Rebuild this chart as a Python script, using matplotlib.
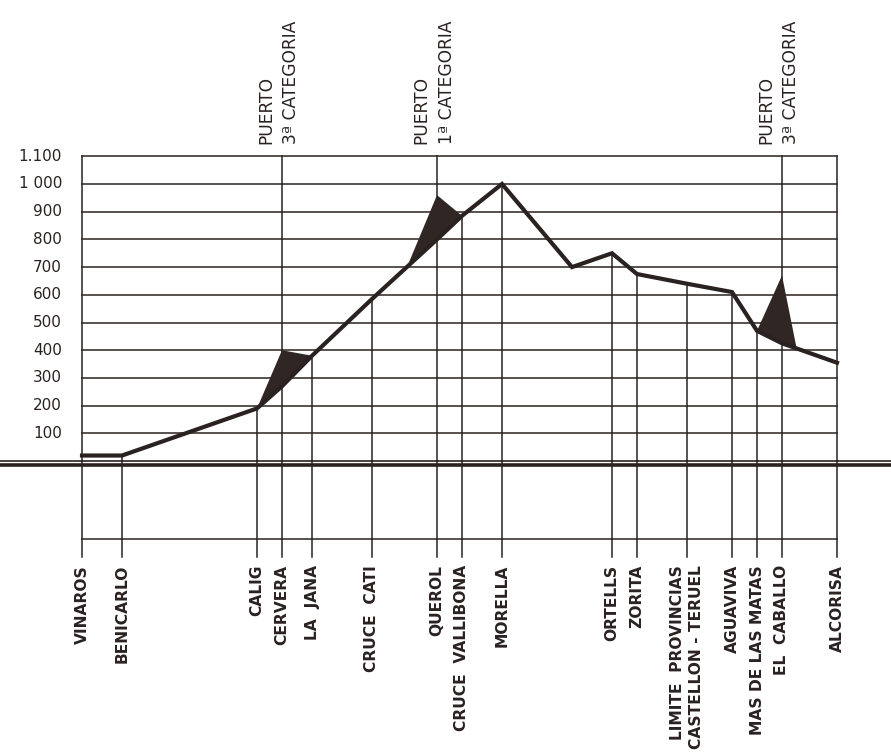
import numpy as np
import matplotlib.pyplot as plt

# Perfil de la etapa Vinaros - Alcorisa
pueblos = ["VINAROS", "BENICARLO", "CALIG", "CERVERA", "LA  JANA", "CRUCE  CATI",
           "QUEROL", "CRUCE  VALLIBONA", "MORELLA", "ORTELLS", "ZORITA",
           "LIMITE  PROVINCIAS\nCASTELLON - TERUEL", "AGUAVIVA",
           "MAS DE LAS MATAS", "EL  CABALLO", "ALCORISA"]
km_pueblos = [0, 8, 35, 40, 46, 58, 71, 76, 84, 106, 111, 121, 130, 135, 140, 151]

# puntos del perfil (km, altitud)
perfil_km = [0, 8, 35, 40, 46, 58, 71, 76, 84, 98, 106, 111, 121, 130, 135, 140, 151]
perfil_alt = [20, 20, 190, 270, 380, 585, 800, 885, 1000, 700, 750, 675, 640, 610, 470, 425, 355]

# puertos: inicio, cima, final del triangulo
puerto_km = [[35, 40, 46], [65, 71, 76], [135, 140, 143]]
puerto_alt = [[190, 400, 380], [700, 960, 885], [470, 670, 400]]
puerto_txt = ["PUERTO\n3ª CATEGORIA", "PUERTO\n1ª CATEGORIA", "PUERTO\n3ª CATEGORIA"]

altitudes = [100, 200, 300, 400, 500, 600, 700, 800, 900, 1000, 1100]
etiquetas_alt = ["100", "200", "300", "400", "500", "600", "700", "800", "900", "1 000", "1.100"]

# lineas verticales hasta arriba del todo
completas = ["VINAROS", "CERVERA", "QUEROL", "EL  CABALLO", "ALCORISA"]

tinta = "#2a2220"
fondo = "#ffffff"

fig = plt.figure(figsize=(8.91, 7.52), dpi=100, facecolor=fondo)
ax = fig.add_axes([0, 0, 1, 1])
ax.set_facecolor(fondo)
ax.set_xlim(-16.4, 161.8)
ax.set_ylim(-1050, 1664)
ax.axis("off")

x0, x1 = km_pueblos[0], km_pueblos[-1]

# cuadricula
for a in altitudes:
    ax.plot([x0, x1], [a, a], color=tinta, lw=1.1, zorder=1)
for a, t in zip(altitudes, etiquetas_alt):
    ax.text(-4, a, t, ha="right", va="center", fontsize=11, color=tinta)

# lineas verticales
for p, k in zip(pueblos, km_pueblos):
    if p in completas:
        top = altitudes[-1]
    else:
        top = np.interp(k, perfil_km, perfil_alt)
    ax.plot([k, k], [0, top], color=tinta, lw=1.1, zorder=1)
    ax.plot([k, k], [0, -347], color=tinta, lw=1.1, zorder=1)
    ax.text(k, -375, p, rotation=90, ha="center", va="top", multialignment="right",
            fontsize=11.2, fontweight="bold", color=tinta, linespacing=1.3)
ax.plot([x0, x1], [-282, -282], color=tinta, lw=1.1, zorder=1)

# linea de tierra
ax.plot([-16.4, 161.8], [0, 0], color=tinta, lw=1.2, zorder=2)
ax.plot([-16.4, 161.8], [-15, -15], color=tinta, lw=2.6, zorder=2)

# puertos
for pk, pa, txt in zip(puerto_km, puerto_alt, puerto_txt):
    ax.fill(pk, pa, color="#302725", lw=0, zorder=3)
    ax.text(pk[1] - 0.6, 1145, txt, rotation=90, ha="center", va="bottom",
            multialignment="left", fontsize=12.3, color=tinta, linespacing=1.5)

# perfil
ax.plot(perfil_km, perfil_alt, color=tinta, lw=3, solid_joinstyle="miter", zorder=4)

fig.savefig("out.png", dpi=100, facecolor=fondo)
